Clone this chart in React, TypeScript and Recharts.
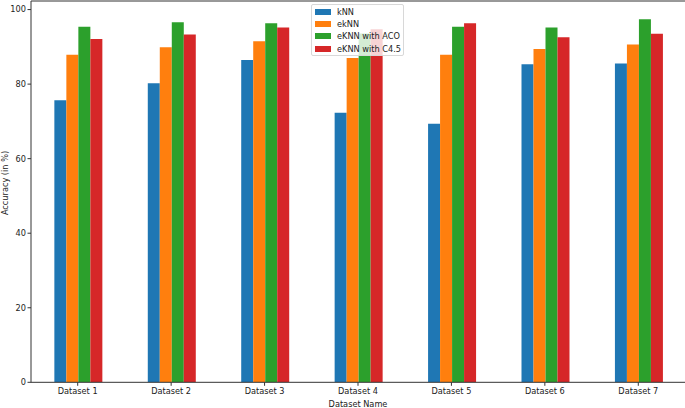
import { BarChart, Bar, XAxis, YAxis, ReferenceLine } from "recharts";

const datasets = ["Dataset 1", "Dataset 2", "Dataset 3", "Dataset 4", "Dataset 5", "Dataset 6", "Dataset 7"];
const knn = [75.7, 80.2, 86.5, 72.3, 69.4, 85.3, 85.5];
const eknn = [87.9, 89.9, 91.5, 87.0, 87.9, 89.4, 90.6];
const eknnAco = [95.4, 96.6, 96.3, 93.6, 95.4, 95.2, 97.4];
const eknnC45 = [92.1, 93.3, 95.2, 94.7, 96.3, 92.6, 93.5];
const yTicks = [0, 20, 40, 60, 80, 100];

const series = [
  { key: "kNN", name: "kNN", color: "#1f77b4" },
  { key: "ekNN", name: "ekNN", color: "#ff7f0e" },
  { key: "aco", name: "eKNN with ACO", color: "#2ca02c" },
  { key: "c45", name: "eKNN with C4.5", color: "#d62728" },
];

const data = datasets.map((name, i) => ({
  name,
  kNN: knn[i],
  ekNN: eknn[i],
  aco: eknnAco[i],
  c45: eknnC45[i],
}));

const font = "'DejaVu Sans', sans-serif";
const yMax = 102.3;

function LegendBox() {
  return (
    <div
      style={{
        position: "absolute",
        left: 311,
        top: 4,
        boxSizing: "border-box",
        width: 93,
        height: 52,
        background: "rgba(255,255,255,0.8)",
        border: "1px solid #d8d8d8",
        borderRadius: 2,
        padding: "1px 0 0 3px",
        fontFamily: font,
        fontSize: 8.2,
        color: "#222",
      }}
    >
      {series.map((s) => (
        <div key={s.key} style={{ display: "flex", alignItems: "center", height: 12.2, whiteSpace: "nowrap" }}>
          <span style={{ display: "inline-block", width: 16, height: 6, background: s.color, marginRight: 6 }} />
          <span>{s.name}</span>
        </div>
      ))}
    </div>
  );
}

function YLabel() {
  const cx = 5;
  const cy = 183;
  return (
    <text x={cx} y={cy} transform={`rotate(-90 ${cx} ${cy})`} textAnchor="middle" dominantBaseline="central"
      fontSize={8.2} fontFamily={font} fill="#222">
      Accuracy (in %)
    </text>
  );
}

export default function App() {
  return (
    <div style={{ position: "absolute", left: 0, top: 0, width: 685, height: 408, background: "#fff" }}>
      <BarChart
        width={685}
        height={408}
        data={data}
        margin={{ top: 1, right: 0, left: 0, bottom: 0 }}
        barCategoryGap="25%"
        barGap={0}
      >
        <XAxis
          dataKey="name"
          height={25.7}
          tick={{ fontSize: 8.2, fill: "#222", fontFamily: font }}
          tickSize={3.5}
          tickMargin={2}
          stroke="#333"
          tickLine={{ stroke: "#333" }}
          interval={0}
          label={{ value: "Dataset Name", position: "insideBottom", offset: 1.5, fontSize: 8.2, fill: "#222", fontFamily: font }}
        />
        <YAxis
          width={31}
          domain={[0, yMax]}
          ticks={yTicks}
          allowDataOverflow
          tick={{ fontSize: 8.2, fill: "#222", fontFamily: font }}
          tickSize={3.5}
          tickMargin={1.5}
          stroke="#333"
          tickLine={{ stroke: "#333" }}
          label={<YLabel />}
        />
        <ReferenceLine y={yMax} stroke="#333" ifOverflow="extendDomain" />
        {series.map((s) => (
          <Bar key={s.key} dataKey={s.key} name={s.name} fill={s.color} isAnimationActive={false} />
        ))}
      </BarChart>
      <LegendBox />
    </div>
  );
}
